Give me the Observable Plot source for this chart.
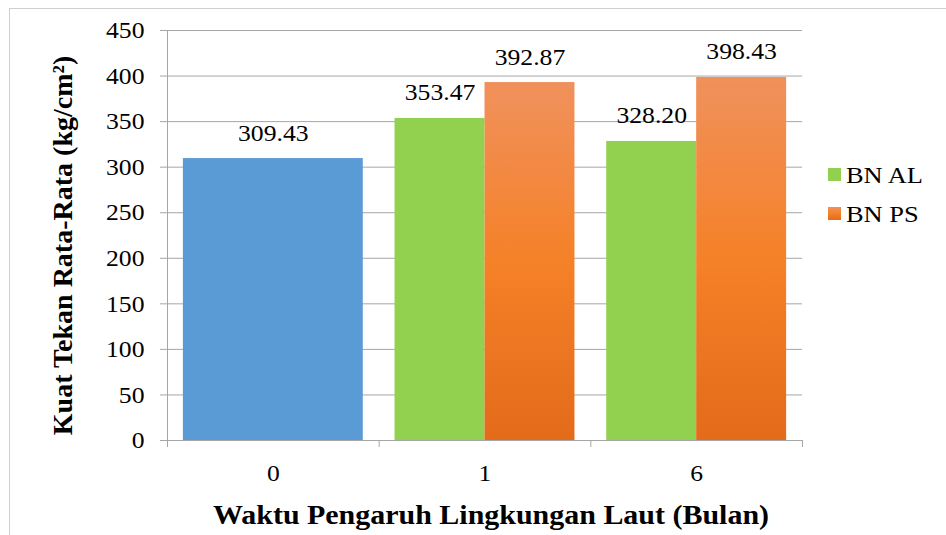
<!DOCTYPE html>
<html><head><meta charset="utf-8">
<script src="https://cdn.jsdelivr.net/npm/d3@7"></script>
<script src="https://cdn.jsdelivr.net/npm/@observablehq/plot@0.6"></script>
<style>html,body{margin:0;padding:0;background:#fff;} #chart{width:946px;height:535px;overflow:hidden;} #chart svg text{font-family:'Liberation Serif','Times New Roman',serif;}</style>
</head><body><div id="chart"></div>
<script>
const categories = ["0", "1", "6"];
const bnValues = [309.43, null, null];
const alValues = [null, 353.47, 328.20];
const psValues = [null, 392.87, 398.43];
const yTicks = [0, 50, 100, 150, 200, 250, 300, 350, 400, 450];
const legendLabels = ["BN AL", "BN PS"];
const xTitle = "Waktu Pengaruh Lingkungan Laut (Bulan)";
const yTitle = "Kuat Tekan Rata-Rata (kg/cm²)";

const serif = "'Liberation Serif','Times New Roman',serif";
const seriesColor = {"BN": "#5B9BD5", "BN AL": "#92D050", "BN PS": "url(#psGrad)"};
const barHalf = 0.425;
const rows = [];
categories.forEach((c, i) => {
  const present = [["BN", bnValues[i]], ["BN AL", alValues[i]], ["BN PS", psValues[i]]].filter(d => d[1] != null);
  const w = 2 * barHalf / present.length;
  present.forEach(([s, v], j) => rows.push({cat: c, idx: i, series: s, value: v, x1: i - barHalf + j * w, x2: i - barHalf + (j + 1) * w}));
});

const gray = "#a6a6a6";
const plot = Plot.plot({
  width: 946, height: 535,
  marginLeft: 167, marginRight: 144, marginTop: 30, marginBottom: 95,
  style: {fontFamily: serif, fontSize: "24px", color: "#000", background: "#fff", overflow: "visible"},
  x: {domain: [-0.5, 2.5], label: null},
  y: {domain: [0, 450], label: null},
  marks: [
    Plot.gridY(yTicks, {stroke: gray, strokeOpacity: 1}),
    ...["BN", "BN AL", "BN PS"].map(s => Plot.rectY(rows.filter(d => d.series === s), {x1: "x1", x2: "x2", y: "value", fill: seriesColor[s]})),
    Plot.ruleX([-0.5], {stroke: gray}),
    Plot.ruleY([0], {stroke: gray}),
    Plot.axisY({ticks: yTicks, tickSize: 7, tickPadding: 16, stroke: gray, label: null, fontFamily: serif, fontSize: 24}),
    Plot.axisX({ticks: [-0.5, 0.5, 1.5, 2.5], tickSize: 7, tickFormat: () => "", stroke: gray, label: null}),
    Plot.axisX({ticks: [0, 1, 2], tickSize: 0, tickPadding: 23, tickFormat: i => categories[i], label: null, fontFamily: serif, fontSize: 24}),
    Plot.text(rows, {x: d => (d.x1 + d.x2) / 2, y: "value", text: d => d.value.toFixed(2), dy: -18, lineAnchor: "bottom", fontSize: 24, fontFamily: serif}),
    Plot.text([xTitle], {text: d => d, frameAnchor: "bottom", textAnchor: "middle", dy: 83, dx: 6, lineAnchor: "bottom", fontWeight: "bold", fontSize: 28, fontFamily: serif}),
    Plot.text([yTitle], {text: d => d, frameAnchor: "left", textAnchor: "middle", lineAnchor: "middle", rotate: -90, dx: -104, dy: 10, fontWeight: "bold", fontSize: 28, fontFamily: serif})
  ]
});

const svg = d3.select(plot);
const defs = svg.insert("defs", ":first-child");
const grad = defs.append("linearGradient").attr("id", "psGrad").attr("x1", 0).attr("y1", 0).attr("x2", 0).attr("y2", 1);
grad.append("stop").attr("offset", "0%").attr("stop-color", "#F0915C");
grad.append("stop").attr("offset", "50%").attr("stop-color", "#F58128");
grad.append("stop").attr("offset", "100%").attr("stop-color", "#E36B1A");
svg.insert("rect", "defs + *").attr("x", 9.5).attr("y", 8.5).attr("width", 1000).attr("height", 600)
  .attr("fill", "none").attr("stroke", "#d0d0d0");

const legend = svg.append("g").attr("text-anchor", "start").attr("class", "legend");
legendLabels.forEach((lab, k) => {
  const yy = 168 + k * 39;
  legend.append("rect").attr("x", 828).attr("y", yy).attr("width", 13).attr("height", 13).attr("fill", k === 0 ? seriesColor["BN AL"] : "url(#psGrad)");
  legend.append("text").attr("x", 846).attr("y", yy + 15).attr("font-size", 24).attr("font-family", serif).attr("text-anchor", "start").attr("fill", "#000").text(lab);
});

document.getElementById("chart").appendChild(plot);

// the reference's lettering is slightly wide; widen horizontal texts a little
svg.selectAll("text").each(function () {
  const t = this.getAttribute("transform") || "";
  if (t.includes("rotate") || !this.textContent) return;
  const f = this.closest(".legend") ? 1.1 : 1.07;
  const len = this.getComputedTextLength();
  if (len > 0) {
    this.setAttribute("textLength", (len * f).toFixed(1));
    this.setAttribute("lengthAdjust", "spacingAndGlyphs");
  }
});
</script>
</body></html>
